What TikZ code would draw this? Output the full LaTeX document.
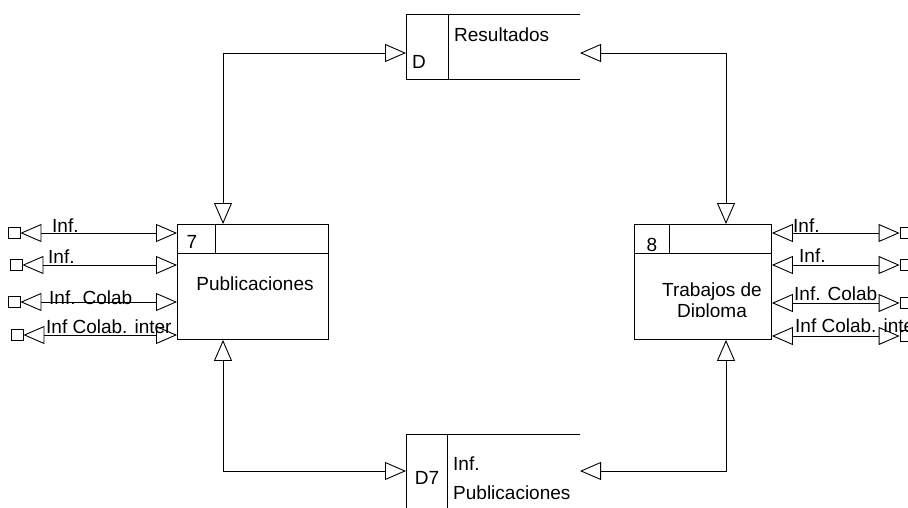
\documentclass[tikz,border=0pt]{standalone}
\usepackage{fontspec}
\setmainfont{Liberation Sans}
\usetikzlibrary{arrows.meta,positioning,calc}

\begin{document}
\begin{tikzpicture}[
  x=1pt,y=-1pt,
  proc/.style={draw, line width=0.9pt, inner sep=0pt, anchor=north west},
  store/.style={inner sep=0pt, anchor=north west},
  ext/.style={draw, line width=0.8pt, minimum width=12pt, minimum height=11pt, inner sep=0pt},
  flow/.style={{Triangle[open,length=21pt,width=18pt]}-{Triangle[open,length=21pt,width=18pt]}, line width=0.9pt},
  txt/.style={font=\fontsize{19}{21}\selectfont, inner sep=0pt},
  lbl/.style={txt, anchor=base west}
]
\clip (0,0) rectangle (908,508);

% processes
\node[proc, minimum width=151pt, minimum height=115pt] (p7) at (177,224) {};
\draw[line width=0.9pt] ($(p7.north west)+(0,29)$) -- ($(p7.north east)+(0,29)$);
\draw[line width=0.9pt] ($(p7.north west)+(38,0)$) -- ++(0,29);
\node[txt] (n7) at (192,242) {7};
\node[txt] (t7) at (255,284) {Publicaciones};

\node[proc, minimum width=137pt, minimum height=115pt] (p8) at (634,224) {};
\draw[line width=0.9pt] ($(p8.north west)+(0,29)$) -- ($(p8.north east)+(0,29)$);
\draw[line width=0.9pt] ($(p8.north west)+(35,0)$) -- ++(0,29);
\node[txt] (n8) at (652,245) {8};
\begin{scope}
  \clip (634,253) rectangle (771,316);
  \node[txt, align=center] (t8) at (712,302) {Trabajos de\\Diploma};
\end{scope}

% data stores
\node[store, minimum width=174pt, minimum height=65pt] (ds) at (406,14) {};
\draw[line width=0.9pt] (ds.north east) -- (ds.north west) -- (ds.south west) -- (ds.south east);
\draw[line width=0.9pt] ($(ds.north west)+(42,0)$) -- ($(ds.south west)+(42,0)$);
\node[txt] (dsid) at (419,62) {D};
\node[txt, anchor=west] (dsname) at (454,35) {Resultados};

\node[store, minimum width=174pt, minimum height=80pt] (dp) at (406,434) {};
\draw[line width=0.9pt] (dp.north east) -- (dp.north west) -- (dp.south west);
\draw[line width=0.9pt] ($(dp.north west)+(41,0)$) -- ($(dp.south west)+(41,0)$);
\begin{scope}
  \clip (406,470) rectangle (447,508);
  \node[txt, anchor=base] (dpid) at (427,484) {D7};
\end{scope}
\node[lbl] (dpname) at (453,470) {Inf.};
\node[lbl] (dpname2) at (453,499) {Publicaciones};

% flows between processes and stores
\coordinate (dsin) at (406,53);
\coordinate (dsout) at (580,53);
\coordinate (dpin) at (406,471);
\coordinate (dpout) at (580,471);
\draw[flow] (dsin) -| ($(p7.north west)+(46,0)$);
\draw[flow] (dsout) -| ($(p8.north west)+(92,0)$);
\draw[flow] (dpin) -| ($(p7.south west)+(46,0)$);
\draw[flow] (dpout) -| ($(p8.south west)+(92,0)$);

% external entities, left
\node[ext] (l1) at (14,233) {};
\node[ext] (l2) at (16,265) {};
\node[ext] (l3) at (14,302) {};
\node[ext] (l4) at (17,335) {};
\draw[flow] (l1) -- (l1 -| p7.west);
\draw[flow] (l2) -- (l2 -| p7.west);
\draw[flow] (l3) -- (l3 -| p7.west);
\draw[flow] (l4) -- (l4 -| p7.west);
\node[lbl] (a1) at (52,232) {Inf.};
\node[lbl] (a2) at (48,263) {Inf.};
\node[lbl] (a3) at (49,304) {Inf. Colab};
\node[lbl] (a4) at (46,333) {Inf Colab. inter};

% external entities, right
\node[ext] (r1) at (906,233) {};
\node[ext] (r2) at (906,265) {};
\node[ext] (r3) at (906,303) {};
\node[ext] (r4) at (906,336) {};
\draw[flow] (r1 -| p8.east) -- (r1);
\draw[flow] (r2 -| p8.east) -- (r2);
\draw[flow] (r3 -| p8.east) -- (r3);
\draw[flow] (r4 -| p8.east) -- (r4);
\node[lbl] (b1) at (793,232) {Inf.};
\node[lbl] (b2) at (799,262) {Inf.};
\node[lbl] (b3) at (794,300) {Inf. Colab};
\node[lbl] (b4) at (795,332) {Inf Colab. inter};
\end{tikzpicture}
\end{document}
